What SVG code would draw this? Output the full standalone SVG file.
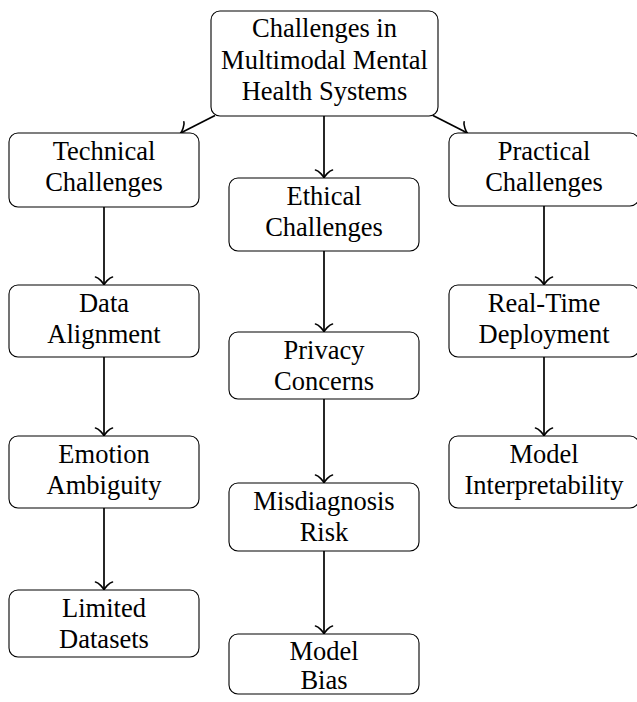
<svg xmlns="http://www.w3.org/2000/svg" width="637" height="702" viewBox="0 0 637 702">
  <defs>
    <style>
      .box { fill: #ffffff; stroke: #000000; stroke-width: 1.1; }
      .lbl { font-family: "Liberation Serif", "Times New Roman", serif; font-size: 26.5px; fill: #000000; text-anchor: middle; }
      .edge { fill: none; stroke: #000000; stroke-width: 1.7; marker-end: url(#tip); }
    </style>
    <!-- curved open arrow tip, like TikZ "to" -->
    <marker id="tip" markerUnits="userSpaceOnUse" viewBox="-8 -10 11 20" markerWidth="11" markerHeight="20" refX="1.5" refY="0" orient="auto" overflow="visible">
      <path d="M -6.5,-8.5 C -6,-5 0,-0.5 1.5,0 C 0,0.5 -6,5 -6.5,8.5" fill="none" stroke="#000000" stroke-width="1.6" stroke-linecap="round" stroke-linejoin="round"/>
    </marker>
  </defs>

  <!-- connectors -->
  <g id="connectors">
    <line class="edge" x1="215" y1="115.5" x2="180.6" y2="133"/>
    <line class="edge" x1="324" y1="116" x2="324" y2="178"/>
    <line class="edge" x1="433" y1="115.5" x2="467.4" y2="133"/>

    <line class="edge" x1="104" y1="207" x2="104" y2="285"/>
    <line class="edge" x1="104" y1="357" x2="104" y2="436"/>
    <line class="edge" x1="104" y1="508" x2="104" y2="590"/>

    <line class="edge" x1="324" y1="251" x2="324" y2="332"/>
    <line class="edge" x1="324" y1="399" x2="324" y2="483"/>
    <line class="edge" x1="324" y1="551" x2="324" y2="634"/>

    <line class="edge" x1="544" y1="206" x2="544" y2="285"/>
    <line class="edge" x1="544" y1="357" x2="544" y2="436"/>
  </g>

  <!-- root -->
  <g id="root">
    <rect class="box" x="211" y="11" width="227" height="105" rx="9"/>
    <text class="lbl" x="324.5" y="37">Challenges in</text>
    <text class="lbl" x="324.5" y="68.5">Multimodal Mental</text>
    <text class="lbl" x="324.5" y="100">Health Systems</text>
  </g>

  <!-- technical branch -->
  <g id="technical">
    <rect class="box" x="9" y="133" width="190" height="74" rx="9"/>
    <text class="lbl" x="104" y="159.5">Technical</text>
    <text class="lbl" x="104" y="191">Challenges</text>
  </g>
  <g id="data-alignment">
    <rect class="box" x="9" y="285" width="190" height="72" rx="9"/>
    <text class="lbl" x="104" y="311.5">Data</text>
    <text class="lbl" x="104" y="343">Alignment</text>
  </g>
  <g id="emotion-ambiguity">
    <rect class="box" x="9" y="436" width="190" height="72" rx="9"/>
    <text class="lbl" x="104" y="462.5">Emotion</text>
    <text class="lbl" x="104" y="494">Ambiguity</text>
  </g>
  <g id="limited-datasets">
    <rect class="box" x="9" y="590" width="190" height="67" rx="9"/>
    <text class="lbl" x="104" y="616.5">Limited</text>
    <text class="lbl" x="104" y="648">Datasets</text>
  </g>

  <!-- ethical branch -->
  <g id="ethical">
    <rect class="box" x="229" y="178" width="190" height="73" rx="9"/>
    <text class="lbl" x="324" y="204.5">Ethical</text>
    <text class="lbl" x="324" y="236">Challenges</text>
  </g>
  <g id="privacy-concerns">
    <rect class="box" x="229" y="332" width="190" height="67" rx="9"/>
    <text class="lbl" x="324" y="358.5">Privacy</text>
    <text class="lbl" x="324" y="390">Concerns</text>
  </g>
  <g id="misdiagnosis-risk">
    <rect class="box" x="229" y="483" width="190" height="68" rx="9"/>
    <text class="lbl" x="324" y="509.5">Misdiagnosis</text>
    <text class="lbl" x="324" y="541">Risk</text>
  </g>
  <g id="model-bias">
    <rect class="box" x="229" y="634" width="190" height="60" rx="9"/>
    <text class="lbl" x="324" y="660">Model</text>
    <text class="lbl" x="324" y="688.5">Bias</text>
  </g>

  <!-- practical branch -->
  <g id="practical">
    <rect class="box" x="449" y="133" width="190" height="73" rx="9"/>
    <text class="lbl" x="544" y="159.5">Practical</text>
    <text class="lbl" x="544" y="191">Challenges</text>
  </g>
  <g id="real-time-deployment">
    <rect class="box" x="449" y="285" width="190" height="72" rx="9"/>
    <text class="lbl" x="544" y="311.5">Real-Time</text>
    <text class="lbl" x="544" y="343">Deployment</text>
  </g>
  <g id="model-interpretability">
    <rect class="box" x="449" y="436" width="190" height="72" rx="9"/>
    <text class="lbl" x="544" y="462.5">Model</text>
    <text class="lbl" x="544" y="494">Interpretability</text>
  </g>
</svg>
